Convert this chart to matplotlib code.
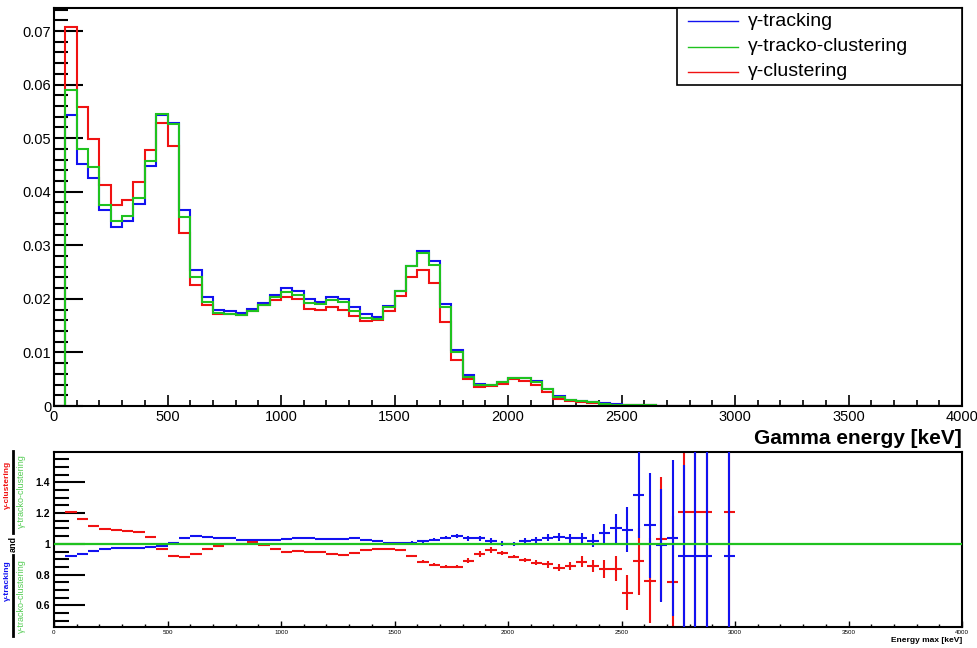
import numpy as np
import matplotlib.pyplot as plt
from matplotlib.lines import Line2D
from matplotlib.patches import Rectangle
from matplotlib.ticker import MultipleLocator, FuncFormatter

plt.rcParams['font.family'] = ['Liberation Sans', 'DejaVu Sans']

# binning of the spectra (keV)
bin_width = 50
energy_max = 4000

# normalised spectra, bins 0..52 (everything above is empty)
tracking = [0, 0.0543, 0.0452, 0.0426, 0.0365, 0.0335, 0.0345, 0.0378, 0.0448, 0.0543,
            0.0529, 0.0366, 0.0253, 0.0203, 0.0180, 0.0178, 0.0173, 0.0182, 0.0192, 0.0208,
            0.0221, 0.0215, 0.0200, 0.0195, 0.0204, 0.0199, 0.0184, 0.0171, 0.0167, 0.0187,
            0.0215, 0.0262, 0.0290, 0.0270, 0.0190, 0.0105, 0.0057, 0.0041, 0.0040, 0.0045,
            0.0052, 0.0052, 0.0047, 0.0032, 0.0019, 0.0012, 0.0010, 0.0007, 0.0005, 0.0003,
            0.0002, 0.0001, 0.0001]
tracko = [0, 0.0589, 0.0480, 0.0447, 0.0376, 0.0346, 0.0355, 0.0388, 0.0457, 0.0546,
          0.0526, 0.0353, 0.0241, 0.0195, 0.0173, 0.0172, 0.0169, 0.0177, 0.0188, 0.0203,
          0.0213, 0.0207, 0.0193, 0.0190, 0.0197, 0.0194, 0.0178, 0.0164, 0.0163, 0.0184,
          0.0215, 0.0261, 0.0286, 0.0264, 0.0184, 0.0101, 0.0055, 0.0040, 0.0040, 0.0045,
          0.0052, 0.0052, 0.0045, 0.0031, 0.0017, 0.0011, 0.0009, 0.0007, 0.0004, 0.0002,
          0.0002, 0.0001, 0.0001]
clustering = [0, 0.0707, 0.0559, 0.0499, 0.0412, 0.0376, 0.0385, 0.0418, 0.0478, 0.0529,
              0.0485, 0.0323, 0.0226, 0.0188, 0.0171, 0.0171, 0.0169, 0.0177, 0.0188, 0.0197,
              0.0204, 0.0199, 0.0182, 0.0179, 0.0184, 0.0179, 0.0168, 0.0159, 0.0161, 0.0178,
              0.0205, 0.0240, 0.0253, 0.0229, 0.0157, 0.0086, 0.0050, 0.0035, 0.0037, 0.0042,
              0.0050, 0.0046, 0.0039, 0.0026, 0.0014, 0.0009, 0.0008, 0.0006, 0.0004, 0.0002,
              0.0001, 0.0001, 0.0001]

# ratios to gamma-tracko-clustering, bins 1..59 (nan = empty bin)
ratio_bins = np.arange(1, 60)
ratio_track = [0.924, 0.937, 0.957, 0.968, 0.974, 0.974, 0.974, 0.981, 0.989, 1.006,
               1.035, 1.052, 1.045, 1.041, 1.035, 1.026, 1.024, 1.024, 1.024, 1.033,
               1.037, 1.037, 1.032, 1.030, 1.030, 1.037, 1.028, 1.019, 1.006, 1.004,
               1.009, 1.017, 1.028, 1.041, 1.050, 1.037, 1.037, 1.022, 1.002, 1.000,
               1.019, 1.026, 1.041, 1.043, 1.035, 1.037, 1.022, 1.069, 1.100, 1.093,
               1.316, 1.121, 0.991, 1.039, 0.924, 0.924, 0.924, np.nan, 0.924]
err_track = [0.004] * 10 + [0.005] * 20 + [0.007, 0.008, 0.009, 0.010, 0.011,
             0.015, 0.017, 0.017, 0.015, 0.015, 0.017, 0.017, 0.024, 0.026, 0.030,
             0.036, 0.042, 0.061, 0.093, 0.147, 0.279, 0.342, 0.367, 0.506, 0.59,
             1.0, 1.0, np.nan, 1.0]
ratio_clus = [1.206, 1.162, 1.117, 1.097, 1.089, 1.084, 1.078, 1.045, 0.968, 0.922,
              0.916, 0.937, 0.970, 0.987, 1.000, 1.000, 1.013, 0.994, 0.968, 0.950,
              0.955, 0.946, 0.950, 0.937, 0.929, 0.942, 0.961, 0.970, 0.970, 0.959,
              0.920, 0.885, 0.866, 0.853, 0.853, 0.892, 0.937, 0.961, 0.942, 0.918,
              0.896, 0.879, 0.868, 0.846, 0.859, 0.885, 0.857, 0.835, 0.838, 0.684,
              0.887, 0.762, 1.032, 0.753, 1.206, 1.206, 1.206, np.nan, 1.206]
err_clus = [0.005] * 30 + [0.007, 0.008, 0.008, 0.008, 0.009,
            0.015, 0.019, 0.017, 0.015, 0.011, 0.013, 0.017, 0.022, 0.025, 0.026,
            0.037, 0.041, 0.058, 0.082, 0.113, 0.219, 0.276, 0.405, 0.43, 1.0,
            1.0, 1.0, np.nan, 1.0]

edges = np.arange(0, energy_max + bin_width, bin_width)
n_bins = len(edges) - 1


def full(v):
    return np.concatenate([v, np.zeros(n_bins - len(v))])


c_blue = '#1212f0'
c_green = '#1fc21f'
c_red = '#f01212'

W, H = 978, 648
fig = plt.figure(figsize=(W / 100, H / 100), dpi=100)
ax = fig.add_axes([54 / W, 1 - 406 / H, 908 / W, 398 / H])
rax = fig.add_axes([54 / W, 1 - 627 / H, 908 / W, 175 / H])

# top panel: spectra
ax.stairs(full(tracking), edges, color=c_blue, lw=1.5, zorder=2)
ax.stairs(full(clustering), edges, color=c_red, lw=1.5, zorder=2.1)
ax.stairs(full(tracko), edges, color=c_green, lw=1.5, zorder=2.2)

ax.set_xlim(0, energy_max)
ax.set_ylim(0, 0.0743)
ax.xaxis.set_major_locator(MultipleLocator(500))
ax.xaxis.set_minor_locator(MultipleLocator(100))
ax.yaxis.set_major_locator(MultipleLocator(0.01))
ax.yaxis.set_minor_locator(MultipleLocator(0.002))
ax.yaxis.set_major_formatter(FuncFormatter(lambda v, p: '0' if abs(v) < 1e-9 else f'{v:.2f}'))
ax.tick_params(which='both', direction='in', top=False, right=False, color='black')
ax.tick_params(axis='y', which='major', length=21, width=1.5, labelsize=10.5, pad=2)
ax.tick_params(axis='y', which='minor', length=10, width=1.5)
ax.tick_params(axis='x', which='major', length=8, width=1.2, labelsize=10.5, pad=3)
ax.tick_params(axis='x', which='minor', length=4, width=1.2)
for s in ax.spines.values():
    s.set_linewidth(1.5)

# legend box drawn ROOT-like with fixed size
fig.patches.append(Rectangle((677 / W, 1 - 85 / H), 285 / W, 77 / H, transform=fig.transFigure,
                             fill=True, facecolor='white', edgecolor='black', lw=1.2, zorder=5))
for row, (name, col) in enumerate([('γ-tracking', c_blue), ('γ-tracko-clustering', c_green),
                                   ('γ-clustering', c_red)]):
    yy = 1 - (21 + 25.5 * row) / H
    fig.add_artist(Line2D([688 / W, 738 / W], [yy, yy], transform=fig.transFigure,
                          color=col, lw=1, zorder=6))
    fig.text(748 / W, yy, name, ha='left', va='center', fontsize=14, zorder=6)

fig.text(962 / W, 1 - 438 / H, 'Gamma energy [keV]', ha='right', va='center',
         fontsize=15, fontweight='bold')

# bottom panel: ratios
rax.axhline(1, color=c_green, lw=1.6, zorder=4)
xc = (ratio_bins + 0.5) * bin_width
rax.errorbar(xc, ratio_clus, xerr=bin_width / 2, yerr=err_clus, fmt='none',
             ecolor=c_red, elinewidth=1.5, capsize=0, zorder=2)
rax.errorbar(xc, ratio_track, xerr=bin_width / 2, yerr=err_track, fmt='none',
             ecolor=c_blue, elinewidth=1.5, capsize=0, zorder=3)

rax.set_xlim(0, energy_max)
rax.set_ylim(0.46, 1.597)
rax.xaxis.set_major_locator(MultipleLocator(500))
rax.xaxis.set_minor_locator(MultipleLocator(100))
rax.yaxis.set_major_locator(MultipleLocator(0.2))
rax.yaxis.set_minor_locator(MultipleLocator(0.05))
rax.yaxis.set_major_formatter(FuncFormatter(lambda v, p: f'{round(v, 2):g}'))
rax.tick_params(which='both', direction='in', top=False, right=False)
rax.tick_params(axis='y', which='major', length=22, width=1.5, labelsize=7.5, pad=3)
rax.tick_params(axis='y', which='minor', length=11, width=1.5)
rax.tick_params(axis='x', which='major', length=4.3, width=1, labelsize=4.5, pad=2)
rax.tick_params(axis='x', which='minor', length=2.2, width=1)
for lab in rax.get_yticklabels():
    lab.set_fontweight('bold')
for s in rax.spines.values():
    s.set_linewidth(1.5)

fig.text(962 / W, 1 - 641 / H, 'Energy max [keV]', ha='right', va='center',
         fontsize=6, fontweight='bold')

# ratio axis title: two stacked fractions, rotated
fig.text(7 / W, 1 - 485 / H, 'γ-clustering', rotation=90, ha='center', va='center',
         fontsize=6, fontweight='bold', color=c_red)
fig.text(21 / W, 1 - 491 / H, 'γ-tracko-clustering', rotation=90, ha='center', va='center',
         fontsize=6.5, color='#55cc55')
fig.text(13 / W, 1 - 544 / H, 'and', rotation=90, ha='center', va='center',
         fontsize=6.5, fontweight='bold')
fig.text(7 / W, 1 - 581 / H, 'γ-tracking', rotation=90, ha='center', va='center',
         fontsize=6, fontweight='bold', color=c_blue)
fig.text(21 / W, 1 - 596 / H, 'γ-tracko-clustering', rotation=90, ha='center', va='center',
         fontsize=6.5, color='#55cc55')
for y0, y1 in [(451, 533), (555, 636)]:
    fig.add_artist(Line2D([13.5 / W, 13.5 / W], [1 - y0 / H, 1 - y1 / H],
                          transform=fig.transFigure, color='black', lw=2))

fig.savefig('out.png', dpi=100)
